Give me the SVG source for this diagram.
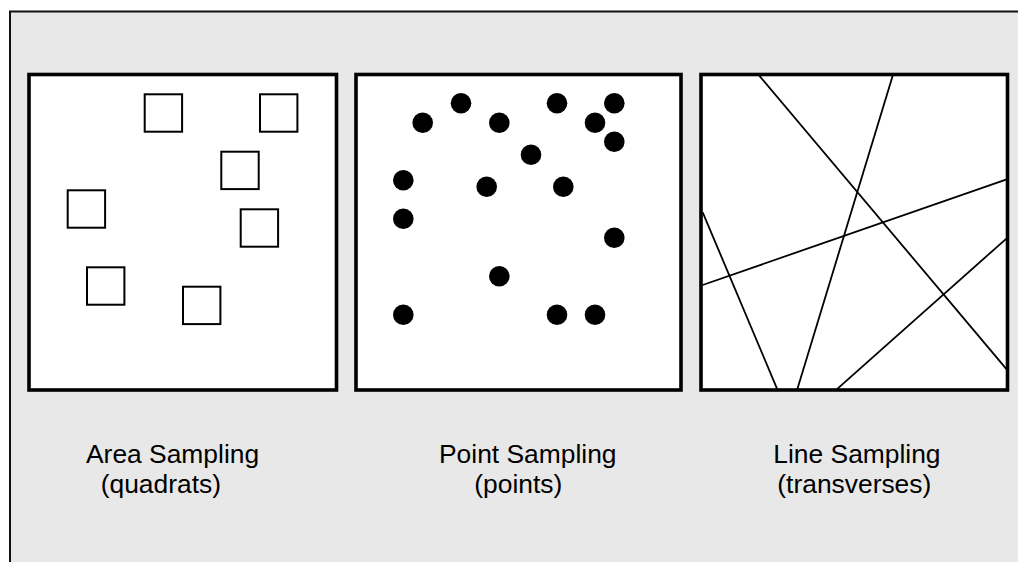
<svg xmlns="http://www.w3.org/2000/svg" width="1018" height="562" viewBox="0 0 1018 562">
  <style>
    .frame { fill: #e8e8e8; stroke: #111; stroke-width: 2; }
    .panel { fill: #fff; stroke: #000; stroke-width: 3.6; }
    .quad { fill: none; stroke: #000; stroke-width: 2; }
    .pt { fill: #000; }
    .tr { stroke: #000; stroke-width: 1.8; fill: none; }
    .lbl { font-family: "Liberation Sans", Arial, sans-serif; font-size: 26.4px; fill: #000; }
  </style>

  <!-- background frame -->
  <rect class="frame" x="10" y="11.5" width="1020" height="560"/>

  <!-- area sampling: quadrats -->
  <g id="area-sampling">
    <rect class="panel" x="29" y="74.5" width="307.5" height="315.5"/>
    <rect class="quad" x="144.7" y="94.3" width="37.4" height="37.4"/>
    <rect class="quad" x="260" y="94.3" width="37.4" height="37.4"/>
    <rect class="quad" x="221.3" y="151.7" width="37.4" height="37.4"/>
    <rect class="quad" x="67.7" y="190.3" width="37.4" height="37.4"/>
    <rect class="quad" x="240.7" y="209.3" width="37.4" height="37.4"/>
    <rect class="quad" x="87" y="267.3" width="37.4" height="37.4"/>
    <rect class="quad" x="183" y="286.7" width="37.4" height="37.4"/>
    <text class="lbl" x="86" y="462.7">Area Sampling</text>
    <text class="lbl" x="100.7" y="493.3">(quadrats)</text>
  </g>

  <!-- point sampling: points -->
  <g id="point-sampling">
    <rect class="panel" x="356" y="74.5" width="325" height="315.5"/>
    <circle class="pt" cx="461" cy="103.3" r="10.3"/>
    <circle class="pt" cx="557" cy="103.3" r="10.3"/>
    <circle class="pt" cx="614.3" cy="103.3" r="10.3"/>
    <circle class="pt" cx="422.7" cy="122.7" r="10.3"/>
    <circle class="pt" cx="499.3" cy="122.7" r="10.3"/>
    <circle class="pt" cx="595" cy="122.7" r="10.3"/>
    <circle class="pt" cx="614.3" cy="141.7" r="10.3"/>
    <circle class="pt" cx="531" cy="154.7" r="10.3"/>
    <circle class="pt" cx="403.3" cy="180.3" r="10.3"/>
    <circle class="pt" cx="486.7" cy="186.7" r="10.3"/>
    <circle class="pt" cx="563.3" cy="186.7" r="10.3"/>
    <circle class="pt" cx="403.3" cy="218.7" r="10.3"/>
    <circle class="pt" cx="614.3" cy="237.7" r="10.3"/>
    <circle class="pt" cx="499.3" cy="276.3" r="10.3"/>
    <circle class="pt" cx="403.3" cy="314.7" r="10.3"/>
    <circle class="pt" cx="557" cy="314.7" r="10.3"/>
    <circle class="pt" cx="595" cy="314.7" r="10.3"/>
    <text class="lbl" x="439" y="462.7">Point Sampling</text>
    <text class="lbl" x="474.3" y="493.3">(points)</text>
  </g>

  <!-- line sampling: transects -->
  <g id="line-sampling">
    <rect class="panel" x="701" y="74.5" width="306.5" height="315.5"/>
    <g id="transects">
      <line class="tr" x1="759.3" y1="75.7" x2="1006.7" y2="369.3"/>
      <line class="tr" x1="892.7" y1="75.7" x2="797.3" y2="389.3"/>
      <line class="tr" x1="702.7" y1="212.3" x2="777.3" y2="389.3"/>
      <line class="tr" x1="702.7" y1="285" x2="1006.7" y2="179.3"/>
      <line class="tr" x1="836.7" y1="389.3" x2="1006.7" y2="238.3"/>
    </g>
    <text class="lbl" x="773.3" y="462.7">Line Sampling</text>
    <text class="lbl" x="777.3" y="493.3">(transverses)</text>
  </g>
</svg>
